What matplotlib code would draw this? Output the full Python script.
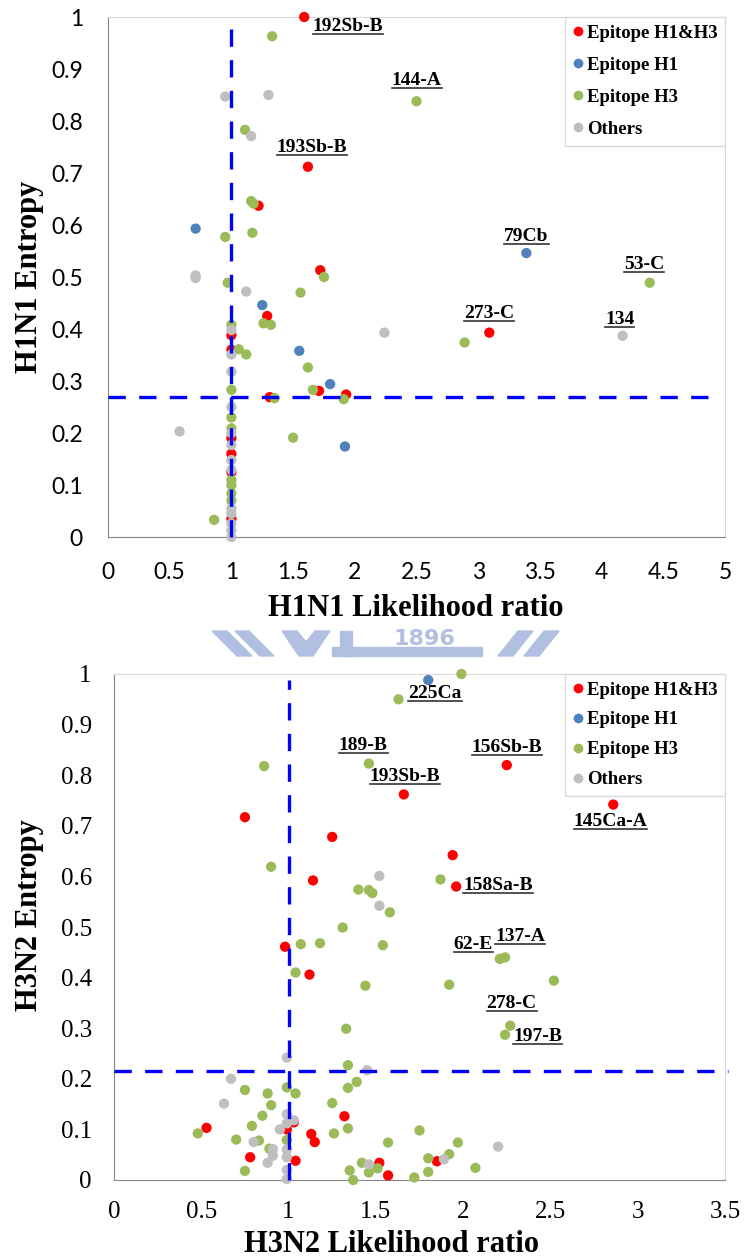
import numpy as np
import matplotlib
matplotlib.use('Agg')
import matplotlib.pyplot as plt
from matplotlib.lines import Line2D
from matplotlib.patches import Polygon
from matplotlib.ticker import FuncFormatter

# ---- H1N1 data (likelihood ratio, entropy) ----
h1_red_x = [1.59, 1.62, 1.22, 1.72, 1.29, 1.0, 1.0, 1.71, 1.93, 1.31, 3.09, 1.0, 1.0, 1.0, 1.0]
h1_red_y = [1.0, 0.712, 0.637, 0.513, 0.425, 0.388, 0.36, 0.281, 0.274, 0.269, 0.393, 0.19, 0.16, 0.125, 0.035]
h1_blue_x = [0.71, 1.25, 1.55, 1.80, 1.92, 3.39]
h1_blue_y = [0.593, 0.446, 0.358, 0.294, 0.174, 0.546]
h1_green_x = [1.33, 2.50, 1.11, 1.16, 1.18, 0.95, 1.17, 1.75, 0.97, 1.56, 1.26, 1.32, 1.0, 1.06, 1.12,
              1.62, 1.66, 1.91, 1.35, 1.0, 1.0, 1.50, 0.86, 4.39, 2.89, 1.0, 1.0, 1.0, 1.0, 1.0]
h1_green_y = [0.963, 0.838, 0.783, 0.646, 0.641, 0.577, 0.585, 0.50, 0.489, 0.47, 0.411, 0.408, 0.408, 0.361, 0.351,
              0.326, 0.283, 0.265, 0.267, 0.283, 0.23, 0.191, 0.033, 0.489, 0.374, 0.209, 0.11, 0.1, 0.084, 0.07]
h1_gray_x = [0.95, 1.30, 1.16, 0.71, 0.71, 1.12, 2.24, 1.0, 1.0, 1.0, 1.0, 0.58, 4.17,
             1.0, 1.0, 1.0, 1.0, 1.0, 1.0, 1.0, 1.0, 1.0]
h1_gray_y = [0.847, 0.85, 0.771, 0.503, 0.498, 0.472, 0.393, 0.398, 0.351, 0.318, 0.25, 0.203, 0.387,
             0.2, 0.177, 0.148, 0.129, 0.055, 0.045, 0.026, 0.013, 0.0]

# labels: (series, index, text, offset in points, ha)
h1_labels = [('red', 0, '192Sb-B', (6, -7), 'left'),
             ('green', 1, '144-A', (0, 15), 'center'),
             ('red', 1, '193Sb-B', (3, 14), 'center'),
             ('blue', 5, '79Cb', (0, 12), 'center'),
             ('green', 23, '53-C', (-4, 13), 'center'),
             ('red', 10, '273-C', (0, 14), 'center'),
             ('gray', 12, '134', (-2, 12), 'center')]

# ---- H3N2 data ----
h3_red_x = [1.66, 2.25, 2.86, 1.94, 1.96, 0.75, 1.25, 1.14, 0.98, 1.12, 1.32, 0.53, 1.03, 1.13, 1.15,
            0.78, 1.04, 1.52, 1.57, 1.85, 0.99]
h3_red_y = [0.762, 0.82, 0.742, 0.642, 0.58, 0.717, 0.678, 0.592, 0.461, 0.406, 0.126, 0.103, 0.114, 0.091, 0.075,
            0.045, 0.038, 0.034, 0.009, 0.037, 0.1]
h3_blue_x = [1.80]
h3_blue_y = [0.988]
h3_green_x = [1.63, 1.46, 1.99, 0.86, 0.90, 1.40, 1.46, 1.48, 1.58, 1.31, 1.87, 1.07, 1.18, 1.54, 1.04,
              1.44, 1.33, 1.34, 0.75, 1.39, 1.34, 0.88, 0.99, 1.04, 0.90, 1.25, 0.85, 0.48, 0.79, 0.99,
              1.26, 1.34, 1.57, 0.70, 0.83, 0.89, 0.75, 1.35, 1.37, 1.42, 1.46, 1.51, 1.72, 1.75,
              2.21, 2.24, 1.92, 2.52, 2.27, 2.24, 1.97, 1.80, 1.92, 1.80, 2.07]
h3_green_y = [0.95, 0.823, 1.0, 0.818, 0.619, 0.574, 0.573, 0.567, 0.529, 0.499, 0.594, 0.466, 0.468, 0.464, 0.41,
              0.384, 0.299, 0.227, 0.178, 0.194, 0.182, 0.171, 0.183, 0.171, 0.148, 0.152, 0.127, 0.092, 0.107, 0.079,
              0.092, 0.102, 0.074, 0.08, 0.078, 0.062, 0.018, 0.019, 0.0, 0.034, 0.015, 0.023, 0.005, 0.098,
              0.437, 0.44, 0.386, 0.394, 0.305, 0.287, 0.074, 0.043, 0.051, 0.016, 0.024]
h3_gray_x = [1.52, 1.52, 0.99, 1.45, 0.67, 0.63, 0.99, 0.99, 1.03, 0.95, 0.80, 0.91, 0.91, 0.88,
             0.99, 0.99, 0.99, 0.99, 1.46, 1.89, 2.20]
h3_gray_y = [0.601, 0.542, 0.242, 0.217, 0.2, 0.151, 0.13, 0.112, 0.118, 0.1, 0.075, 0.061, 0.048, 0.034,
             0.06, 0.045, 0.02, 0.002, 0.031, 0.041, 0.066]

h3_labels = [('green', 0, '225Ca', (7, 4), 'left'),
             ('green', 1, '189-B', (-4, 13), 'center'),
             ('red', 0, '193Sb-B', (1, 13), 'center'),
             ('red', 1, '156Sb-B', (0, 13), 'center'),
             ('red', 2, '145Ca-A', (-2, -12), 'center'),
             ('red', 4, '158Sa-B', (5, 1), 'left'),
             ('green', 44, '62-E', (-19, 10), 'center'),
             ('green', 45, '137-A', (11, 15), 'center'),
             ('green', 48, '278-C', (1, 16), 'center'),
             ('green', 49, '197-B', (6, -1), 'left')]

legend_names = ['Epitope H1&H3', 'Epitope H1', 'Epitope H3', 'Others']
colors = {'red': '#FF0000', 'blue': '#4F81BD', 'green': '#9BBB59', 'gray': '#BFBFBF'}

serif = 'Liberation Serif'

fig = plt.figure(figsize=(7.45, 12.6), dpi=100)

# faint watermark between the charts (only its lower part shows)
wm = '#B1C0E0'
for poly in [[(212, 631), (227, 631), (252, 656), (237, 656)],
             [(235, 631), (249, 631), (274, 656), (260, 656)],
             [(282, 631), (297, 631), (306, 642), (315, 631), (330, 631), (313, 656), (299, 656)],
             [(332, 647), (482, 647), (482, 656), (332, 656)],
             [(340, 631), (352, 631), (352, 656), (340, 656)],
             [(498, 656), (513, 656), (533, 631), (518, 631)],
             [(524, 656), (539, 656), (559, 631), (544, 631)]]:
    fig.patches.append(Polygon([(x / 745, 1 - y / 1260) for x, y in poly], closed=True,
                               transform=fig.transFigure, color=wm, zorder=0))
fig.text(424 / 745, 1 - 639 / 1260, '1896', color=wm, fontsize=16, fontweight='bold',
         family='DejaVu Sans', ha='center', va='center', zorder=0)


def draw_panel(rect, series, labels, xmax, hline_y, hline_end, name, tickfont, xpad, ypad,
               ylab_pos, xlab_pos, legspace):
    ax = fig.add_axes(rect)
    ax.set_facecolor('white')
    for key in ['red', 'blue', 'green', 'gray']:
        xs, ys = series[key]
        ax.scatter(xs, ys, s=55, color=colors[key], edgecolors='none', zorder=3, clip_on=False)
    # threshold lines
    ax.plot([1, 1], [0, 0.988], color='#0000FF', lw=2.4, linestyle=(0, (5.2, 4)), zorder=5, clip_on=False)
    ax.plot([0, hline_end], [hline_y, hline_y], color='#0000FF', lw=2.4, linestyle=(0, (5.2, 4)),
            zorder=5, clip_on=False)

    ax.set_xlim(0, xmax)
    ax.set_ylim(0, 1)
    ax.set_xticks(np.arange(0, xmax + 0.01, 0.5))
    ax.set_yticks(np.arange(0, 1.01, 0.1))
    fmt = FuncFormatter(lambda v, p: '%g' % round(v, 2))
    ax.xaxis.set_major_formatter(fmt)
    ax.yaxis.set_major_formatter(fmt)
    ax.tick_params(length=0, labelsize=tickfont[1])
    ax.tick_params(axis='y', pad=ypad)
    ax.tick_params(axis='x', pad=xpad)
    for lab in ax.get_xticklabels() + ax.get_yticklabels():
        lab.set_family(tickfont[0])
    ax.spines['left'].set_color('#868686')
    ax.spines['bottom'].set_color('#868686')
    ax.spines['top'].set_color('#D9D9D9')
    ax.spines['right'].set_color('#D9D9D9')

    handles = [Line2D([], [], marker='o', linestyle='none', markersize=7, color=colors[k],
                      markeredgewidth=0) for k in ['red', 'blue', 'green', 'gray']]
    leg = ax.legend(handles, legend_names, loc='upper right', bbox_to_anchor=(1, 1), borderaxespad=0,
                    frameon=True, fancybox=False, edgecolor='#D9D9D9', framealpha=1,
                    prop={'family': serif, 'weight': 'bold', 'size': 13.5},
                    handlelength=0.5, handletextpad=0.25, labelspacing=legspace, borderpad=0.4)
    leg.set_zorder(6)

    texts = []
    for key, i, txt, off, ha in labels:
        xs, ys = series[key]
        t = ax.annotate(txt, (xs[i], ys[i]), xytext=off, textcoords='offset points', ha=ha, va='center',
                        family=serif, fontweight='bold', fontsize=14, zorder=7, annotation_clip=False)
        texts.append(t)

    fig.text(ylab_pos[0] / 745, 1 - ylab_pos[1] / 1260, name + ' Entropy', rotation=90, ha='center',
             va='center', family=serif, fontweight='bold', fontsize=22)
    fig.text(xlab_pos[0] / 745, 1 - xlab_pos[1] / 1260, name + ' Likelihood ratio', ha='center',
             va='center', family=serif, fontweight='bold', fontsize=22)
    return ax, texts


ax1, t1 = draw_panel([108 / 745, 1 - 537 / 1260, 617 / 745, 520 / 1260],
                     {'red': (h1_red_x, h1_red_y), 'blue': (h1_blue_x, h1_blue_y),
                      'green': (h1_green_x, h1_green_y), 'gray': (h1_gray_x, h1_gray_y)},
                     h1_labels, 5, 0.27, 4.93, 'H1N1', ('Lato', 16.5), 18, 18, (30, 277), (416, 608), 0.8)
ax2, t2 = draw_panel([114 / 745, 1 - 1180 / 1260, 611 / 745, 506 / 1260],
                     {'red': (h3_red_x, h3_red_y), 'blue': (h3_blue_x, h3_blue_y),
                      'green': (h3_green_x, h3_green_y), 'gray': (h3_gray_x, h3_gray_y)},
                     h3_labels, 3.5, 0.215, 3.52, 'H3N2', (serif, 18), 15, 16, (30, 915), (392, 1245), 0.68)

# underline the site labels
fig.canvas.draw()
inv = fig.transFigure.inverted()
for t in t1 + t2:
    bb = t.get_window_extent().transformed(inv)
    fig.lines.append(Line2D([bb.x0, bb.x1], [bb.y0 + 0.0008, bb.y0 + 0.0008], transform=fig.transFigure,
                            color='#333333', lw=1.2))

fig.savefig('out.png', dpi=100, facecolor='white')
